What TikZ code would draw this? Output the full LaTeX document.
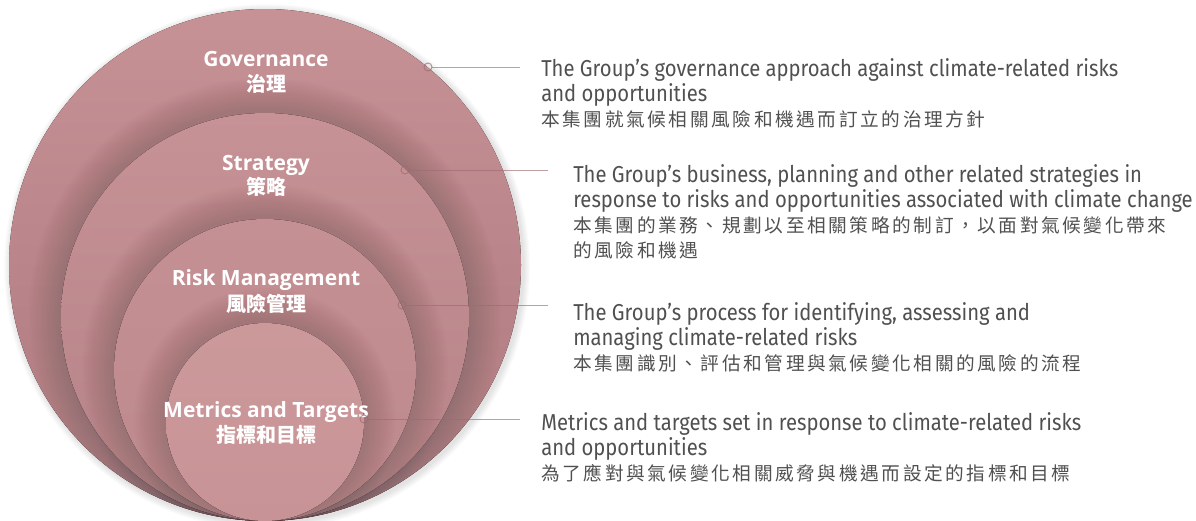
\documentclass[tikz,border=0pt]{standalone}
\usepackage{fontspec}
\setmainfont{Open Sans}
\newfontfamily\cjk{Noto Sans CJK TC}
\newfontfamily\cjkdesc{Noto Sans CJK TC}[LetterSpace=14]
\newfontfamily\descfont{Fira Sans}[FakeStretch=0.88]
\definecolor{outtop}{HTML}{C69296}
\definecolor{outbot}{HTML}{AD797F}
\definecolor{strtop}{HTML}{C69296}
\definecolor{strbot}{HTML}{B58287}
\definecolor{risktop}{HTML}{C59094}
\definecolor{riskbot}{HTML}{BC898D}
\definecolor{mettop}{HTML}{CC999B}
\definecolor{metbot}{HTML}{C89396}
\definecolor{linecol}{HTML}{9E6B70}
\definecolor{desccol}{HTML}{505050}
\begin{document}
\begin{tikzpicture}[x=0.75pt,y=-0.75pt,
  lbl/.style={text=white,font=\fontsize{15.75}{18}\selectfont\bfseries,inner sep=0,anchor=base},
  lblc/.style={text=white,font=\fontsize{15}{18}\cjk\bfseries,inner sep=0,anchor=base},
  desc/.style={text=desccol,font=\fontsize{17.25}{20}\descfont,inner sep=0,anchor=base west},
  descc/.style={text=desccol,font=\fontsize{14}{16}\cjkdesc,inner sep=0,anchor=base west},
  dotmark/.style={circle,draw=linecol,draw opacity=0.75,line width=0.7pt,minimum size=6pt,inner sep=0},
  leader/.style={draw=linecol,draw opacity=0.65,line width=0.7pt}]
\useasboundingbox (0,0) rectangle (1196,521);
% outer soft shadow
\foreach \k in {1,...,7}
  \fill[black,opacity=0.015] (267,267) circle [radius=256+\k*1.0];
% outer circle
\fill[top color=outtop,bottom color=outbot] (265,265) circle [radius=256];
\begin{scope}
  \clip (265,265) circle [radius=256];
  % strategy
  \foreach \k in {1,...,16}
    \fill[black,opacity=0.009] (265,314) circle [radius=204+\k*2];
  \fill[top color=strtop,bottom color=strbot] (265,317) circle [radius=204];
  % risk
  \foreach \k in {1,...,16}
    \fill[black,opacity=0.009] (265,367) circle [radius=151+\k*2];
  \fill[top color=risktop,bottom color=riskbot] (265,370) circle [radius=151];
  % metrics
  \foreach \k in {1,...,16}
    \fill[black,opacity=0.009] (265,419) circle [radius=99+\k*2];
  \fill[top color=mettop,bottom color=metbot] (265,422) circle [radius=99];
\end{scope}
% circle labels
\node[lbl]  (gov)  at (266,66)  {Governance};
\node[lblc] (govc) at (266,91)  {治理};
\node[lbl]  (str)  at (266,170) {Strategy};
\node[lblc] (strc) at (266,194) {策略};
\node[lbl]  (risk) at (266,285) {Risk Management};
\node[lblc] (riskc) at (266,311) {風險管理};
\node[lbl]  (met)  at (266,417) {Metrics and Targets};
\node[lblc] (metc) at (266,442) {指標和目標};
% leaders
\node[dotmark] (d1) at (428,67) {};
\coordinate (e1) at (520,67);
\draw[leader] (d1) -- (e1);
\node[dotmark] (d2) at (405,170) {};
\coordinate (e2) at (548,170);
\draw[leader] (d2) -- (e2);
\node[dotmark] (d3) at (402,305) {};
\coordinate (e3) at (548,305);
\draw[leader] (d3) -- (e3);
\node[dotmark] (d4) at (364,419) {};
\coordinate (e4) at (520,419);
\draw[leader] (d4) -- (e4);
% descriptions
\node[desc]  (t1a) at (541,76)  {The Group’s governance approach against climate-related risks};
\node[desc]  (t1b) at (541,101) {and opportunities};
\node[descc] (t1c) at (541,126) {本集團就氣候相關風險和機遇而訂立的治理方針};
\node[desc]  (t2a) at (573,182) {The Group’s business, planning and other related strategies in};
\node[desc]  (t2b) at (573,207) {response to risks and opportunities associated with climate change};
\node[descc] (t2c) at (573,232) {本集團的業務、規劃以至相關策略的制訂，以面對氣候變化帶來};
\node[descc] (t2d) at (573,257) {的風險和機遇};
\node[desc]  (t3a) at (573,320) {The Group’s process for identifying, assessing and};
\node[desc]  (t3b) at (573,345) {managing climate-related risks};
\node[descc] (t3c) at (573,370) {本集團識別、評估和管理與氣候變化相關的風險的流程};
\node[desc]  (t4a) at (541,430) {Metrics and targets set in response to climate-related risks};
\node[desc]  (t4b) at (541,455) {and opportunities};
\node[descc] (t4c) at (541,480) {為了應對與氣候變化相關威脅與機遇而設定的指標和目標};
\end{tikzpicture}
\end{document}
